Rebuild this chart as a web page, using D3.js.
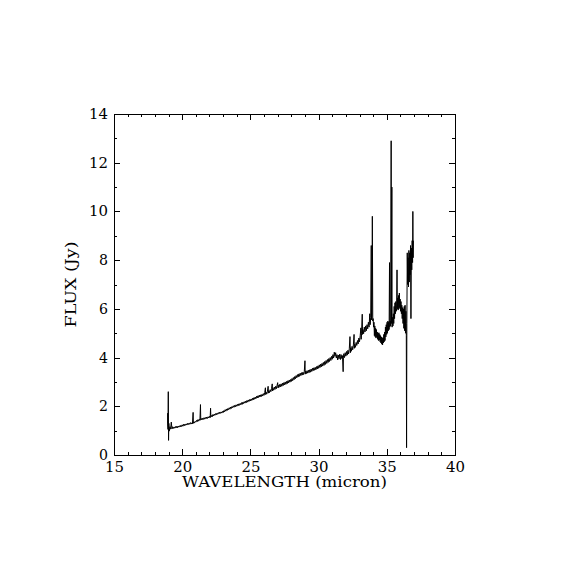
<!DOCTYPE html>
<html>
<head>
  <title>Spectrum</title>
  <style>
    body { margin: 0; background: #fff; }
    text { font-family: "DejaVu Serif", serif; font-size: 14px; fill: #000; }
  </style>
</head>
<body>
  <svg id="svg"></svg>

  <script src="https://d3js.org/d3.v7.min.js"></script>
  <script>
    // values
    let xTicks = [15, 20, 25, 30, 35, 40];
    let yTicks = [0, 2, 4, 6, 8, 10, 12, 14];
    let xLabel = "WAVELENGTH (micron)";
    let yLabel = "FLUX (Jy)";

    // [wavelength (micron), flux (Jy)]
    let spectrum = [
      [18.93, 1.72], [18.93, 1.31], [18.96, 1.05], [18.98, 2.6], [19.0, 0.6], [19.02, 1.3], [19.05, 0.98],
      [19.10, 1.16], [19.15, 1.06], [19.20, 1.35], [19.25, 1.07], [19.30, 1.16], [19.35, 1.09], [19.40, 1.15],
      [19.45, 1.10], [19.50, 1.17], [19.55, 1.11], [19.60, 1.18], [19.65, 1.12], [19.70, 1.19], [19.75, 1.14],
      [19.80, 1.20], [19.85, 1.15], [19.90, 1.22], [19.95, 1.17],
      [20.00, 1.24], [20.05, 1.18], [20.10, 1.26], [20.15, 1.20], [20.20, 1.27], [20.25, 1.22], [20.30, 1.28],
      [20.35, 1.23], [20.40, 1.30], [20.45, 1.25], [20.50, 1.31], [20.55, 1.26], [20.60, 1.33], [20.65, 1.27],
      [20.70, 1.32], [20.75, 1.28], [20.80, 1.75], [20.82, 1.30], [20.85, 1.36], [20.90, 1.31], [20.95, 1.38],
      [21.00, 1.35], [21.05, 1.42], [21.10, 1.37], [21.15, 1.45], [21.20, 1.39], [21.25, 1.47], [21.30, 1.42],
      [21.34, 2.07], [21.36, 1.44], [21.40, 1.50], [21.45, 1.44], [21.50, 1.51], [21.55, 1.46], [21.60, 1.53],
      [21.65, 1.47], [21.70, 1.54], [21.75, 1.49], [21.80, 1.56], [21.85, 1.50], [21.90, 1.57], [21.95, 1.52],
      [22.00, 1.59], [22.05, 1.53], [22.08, 1.92], [22.10, 1.56], [22.15, 1.62], [22.20, 1.57], [22.25, 1.66],
      [22.30, 1.60], [22.35, 1.68], [22.40, 1.63], [22.45, 1.70], [22.50, 1.65], [22.55, 1.72], [22.60, 1.67],
      [22.65, 1.74], [22.70, 1.69], [22.75, 1.76], [22.80, 1.71], [22.85, 1.77], [22.90, 1.72], [22.95, 1.79],
      [23.00, 1.74], [23.05, 1.82], [23.10, 1.77], [23.15, 1.86], [23.20, 1.80], [23.25, 1.89], [23.30, 1.83],
      [23.35, 1.91], [23.40, 1.86], [23.45, 1.94], [23.50, 1.88], [23.55, 1.97], [23.60, 1.91], [23.65, 1.99],
      [23.70, 1.94], [23.75, 2.02], [23.80, 1.96], [23.85, 2.04], [23.90, 1.98], [23.95, 2.06],
      [24.00, 2.00], [24.05, 2.08], [24.10, 2.02], [24.15, 2.10], [24.20, 2.04], [24.25, 2.12], [24.30, 2.06],
      [24.35, 2.15], [24.40, 2.08], [24.45, 2.17], [24.50, 2.11], [24.55, 2.19], [24.60, 2.13], [24.65, 2.21],
      [24.70, 2.15], [24.75, 2.24], [24.80, 2.17], [24.85, 2.26], [24.90, 2.20], [24.95, 2.28],
      [25.00, 2.22], [25.05, 2.30], [25.10, 2.24], [25.15, 2.33], [25.20, 2.26], [25.25, 2.35], [25.30, 2.29],
      [25.35, 2.38], [25.40, 2.31], [25.45, 2.41], [25.50, 2.34], [25.55, 2.43], [25.60, 2.36], [25.65, 2.46],
      [25.70, 2.38], [25.75, 2.47], [25.80, 2.40], [25.85, 2.49], [25.90, 2.42], [25.95, 2.52],
      [26.00, 2.45], [26.05, 2.56], [26.10, 2.76], [26.12, 2.48], [26.15, 2.58], [26.20, 2.50], [26.25, 2.62],
      [26.30, 2.82], [26.32, 2.54], [26.35, 2.64], [26.40, 2.56], [26.45, 2.68], [26.50, 2.60], [26.55, 2.72],
      [26.60, 2.92], [26.62, 2.63], [26.65, 2.74], [26.70, 2.66], [26.75, 2.79], [26.80, 2.69], [26.85, 2.82],
      [26.90, 2.72], [26.95, 2.85],
      [27.00, 2.97], [27.03, 2.75], [27.05, 2.86], [27.10, 2.78], [27.15, 2.90], [27.20, 2.80], [27.25, 2.92],
      [27.30, 2.82], [27.35, 2.95], [27.40, 2.85], [27.45, 2.97], [27.50, 2.88], [27.55, 3.00], [27.60, 2.90],
      [27.65, 3.02], [27.70, 2.93], [27.75, 3.05], [27.80, 2.96], [27.85, 3.08], [27.90, 2.99], [27.95, 3.10],
      [28.00, 3.02], [28.05, 3.14], [28.10, 3.05], [28.15, 3.18], [28.20, 3.09], [28.25, 3.22], [28.30, 3.13],
      [28.35, 3.26], [28.40, 3.17], [28.45, 3.30], [28.50, 3.20], [28.55, 3.33], [28.60, 3.23], [28.65, 3.36],
      [28.70, 3.26], [28.75, 3.38], [28.80, 3.28], [28.85, 3.40], [28.90, 3.30], [28.95, 3.42],
      [29.00, 3.87], [29.02, 3.32], [29.05, 3.44], [29.10, 3.34], [29.15, 3.46], [29.20, 3.36], [29.25, 3.48],
      [29.30, 3.38], [29.35, 3.50], [29.40, 3.40], [29.45, 3.53], [29.50, 3.43], [29.55, 3.56], [29.60, 3.46],
      [29.65, 3.58], [29.70, 3.48], [29.75, 3.60], [29.80, 3.50], [29.85, 3.63], [29.90, 3.53], [29.95, 3.66],
      [30.00, 3.56], [30.05, 3.70], [30.10, 3.59], [30.15, 3.73], [30.20, 3.62], [30.25, 3.76], [30.30, 3.65],
      [30.35, 3.80], [30.40, 3.68], [30.45, 3.84], [30.50, 3.72], [30.55, 3.88], [30.60, 3.76], [30.65, 3.92],
      [30.70, 3.80], [30.75, 3.96], [30.80, 3.84], [30.85, 4.00], [30.90, 3.88], [30.95, 4.05],
      [31.00, 3.93], [31.05, 4.12], [31.10, 3.98], [31.15, 4.22], [31.20, 4.05], [31.25, 4.20], [31.30, 3.98],
      [31.35, 4.12], [31.40, 3.90], [31.45, 4.10], [31.50, 3.95], [31.55, 4.14], [31.60, 3.92], [31.65, 4.12],
      [31.70, 3.96], [31.75, 4.08], [31.80, 3.42], [31.82, 4.02], [31.85, 4.16], [31.90, 4.00], [31.95, 4.20],
      [32.00, 4.06], [32.05, 4.25], [32.10, 4.10], [32.15, 4.30], [32.20, 4.15], [32.25, 4.36], [32.30, 4.86],
      [32.33, 4.20], [32.35, 4.40], [32.40, 4.26], [32.45, 4.46], [32.50, 4.32], [32.55, 4.52], [32.60, 4.95],
      [32.62, 4.38], [32.65, 4.55], [32.70, 4.42], [32.75, 4.62], [32.80, 4.50], [32.85, 4.70], [32.90, 4.56],
      [32.95, 4.80],
      [33.00, 4.65], [33.05, 4.90], [33.10, 5.22], [33.12, 4.75], [33.15, 5.00], [33.20, 5.78], [33.22, 4.95],
      [33.25, 5.15], [33.30, 4.98], [33.35, 5.25], [33.40, 5.05], [33.45, 5.30], [33.50, 5.10], [33.55, 5.35],
      [33.60, 5.18], [33.65, 5.45], [33.70, 5.25], [33.75, 5.80], [33.78, 5.35], [33.82, 5.65], [33.86, 8.60],
      [33.88, 5.55], [33.91, 5.75], [33.94, 9.80], [33.97, 5.50],
      [34.00, 5.60], [34.03, 5.25], [34.06, 5.45], [34.09, 4.90], [34.12, 5.30], [34.15, 4.85], [34.18, 5.20],
      [34.21, 4.80], [34.24, 5.15], [34.27, 4.85], [34.30, 5.05], [34.33, 4.75], [34.36, 5.00], [34.39, 4.70],
      [34.42, 5.02], [34.45, 4.72], [34.48, 4.95], [34.51, 4.65], [34.54, 4.90], [34.57, 4.60], [34.60, 4.85],
      [34.63, 4.55], [34.66, 4.82], [34.69, 4.52], [34.72, 4.80], [34.75, 4.60], [34.78, 4.95], [34.81, 4.65],
      [34.84, 5.05], [34.87, 4.70], [34.90, 5.25], [34.93, 4.85], [34.96, 5.35], [34.99, 4.95],
      [35.02, 5.45], [35.05, 5.00], [35.08, 5.50], [35.11, 5.10], [35.14, 5.45], [35.17, 5.15], [35.20, 7.90],
      [35.22, 5.25], [35.25, 5.50], [35.28, 5.30], [35.32, 12.9], [35.34, 5.40], [35.37, 11.0], [35.39, 5.25],
      [35.42, 5.65], [35.45, 5.30], [35.48, 5.80], [35.51, 5.40], [35.54, 6.10], [35.57, 5.60], [35.60, 6.25],
      [35.63, 5.80], [35.66, 6.30], [35.69, 5.90], [35.72, 6.00], [35.75, 7.60], [35.77, 6.00], [35.80, 6.45],
      [35.83, 5.95], [35.86, 6.55], [35.89, 6.00], [35.92, 6.65], [35.95, 6.05], [35.98, 6.40],
      [36.01, 5.90], [36.04, 6.30], [36.07, 5.80], [36.10, 6.15], [36.13, 5.60], [36.16, 6.05], [36.19, 5.40],
      [36.22, 6.00], [36.25, 5.20], [36.28, 6.10], [36.31, 5.10], [36.34, 6.15], [36.37, 5.00], [36.40, 5.90],
      [36.43, 4.90], [36.45, 0.30], [36.47, 5.40], [36.50, 8.30], [36.53, 7.00], [36.56, 8.10], [36.59, 6.90],
      [36.62, 8.40], [36.65, 7.10], [36.68, 8.30], [36.71, 7.40], [36.74, 8.60], [36.77, 5.60], [36.80, 8.50],
      [36.83, 7.60], [36.86, 8.80], [36.89, 7.90], [36.91, 10.0], [36.93, 8.10], [36.95, 8.80]
    ];

    let width = 570, height = 570;
    let frame = { left: 114, right: 455, top: 114, bottom: 455 };

    let svg = d3.select("#svg").attr("width", width).attr("height", height);

    let xScale = d3.scaleLinear().domain([15, 40]).range([frame.left, frame.right]);
    let yScale = d3.scaleLinear().domain([0, 14]).range([frame.bottom, frame.top]);

    let minorX = d3.range(15, 41, 1);
    let minorY = d3.range(0, 14.5, 1);

    // minor ticks, all four sides
    let minorAxes = [
      [d3.axisBottom(xScale).tickValues(minorX).tickSize(-3), `translate(0,${frame.bottom})`],
      [d3.axisTop(xScale).tickValues(minorX).tickSize(-3), `translate(0,${frame.top})`],
      [d3.axisLeft(yScale).tickValues(minorY).tickSize(-3), `translate(${frame.left},0)`],
      [d3.axisRight(yScale).tickValues(minorY).tickSize(-3), `translate(${frame.right},0)`]
    ];
    minorAxes.forEach(([ax, tr]) => {
      let g = svg.append("g").attr("transform", tr).call(ax.tickFormat(""));
      g.select(".domain").remove();
    });

    // major ticks
    let xBottom = svg.append("g")
      .attr("transform", `translate(0,${frame.bottom})`)
      .call(d3.axisBottom(xScale).tickValues(xTicks).tickSize(-6).tickPadding(7.5).tickFormat(d3.format("d")));
    let xTop = svg.append("g")
      .attr("transform", `translate(0,${frame.top})`)
      .call(d3.axisTop(xScale).tickValues(xTicks).tickSize(-6).tickFormat(""));
    let yLeft = svg.append("g")
      .attr("transform", `translate(${frame.left},0)`)
      .call(d3.axisLeft(yScale).tickValues(yTicks).tickSize(-6).tickPadding(6).tickFormat(d3.format("d")));
    let yRight = svg.append("g")
      .attr("transform", `translate(${frame.right},0)`)
      .call(d3.axisRight(yScale).tickValues(yTicks).tickSize(-6).tickFormat(""));

    [xBottom, xTop, yLeft, yRight].forEach(g => g.select(".domain").remove());

    svg.selectAll(".tick line").attr("stroke", "#000").attr("shape-rendering", "crispEdges");

    // stretch the digits a little, the original font is wide
    svg.selectAll(".tick text")
      .attr("font-family", "DejaVu Serif")
      .attr("font-size", 14)
      .attr("fill", "#000")
      .each(function () {
        let t = d3.select(this);
        t.attr("textLength", t.text().length * 10 - 1).attr("lengthAdjust", "spacingAndGlyphs");
      });

    // frame
    svg.append("rect")
      .attr("x", frame.left + 0.5)
      .attr("y", frame.top + 0.5)
      .attr("width", frame.right - frame.left)
      .attr("height", frame.bottom - frame.top)
      .attr("fill", "none")
      .attr("stroke", "#000")
      .attr("shape-rendering", "crispEdges");

    // spectrum
    let line = d3.line()
      .x(d => xScale(d[0]))
      .y(d => yScale(d[1]));

    svg.append("path")
      .datum(spectrum)
      .attr("d", line)
      .attr("fill", "none")
      .attr("stroke", "#000")
      .attr("stroke-width", 1)
      .attr("stroke-linejoin", "bevel");

    // axis titles
    svg.append("text")
      .attr("x", (frame.left + frame.right) / 2)
      .attr("y", 487)
      .attr("text-anchor", "middle")
      .attr("font-size", 13)
      .attr("textLength", 205)
      .attr("lengthAdjust", "spacingAndGlyphs")
      .text(xLabel);

    svg.append("text")
      .attr("transform", `translate(75.5,${(frame.top + frame.bottom) / 2}) rotate(-90)`)
      .attr("text-anchor", "middle")
      .attr("textLength", 86)
      .attr("lengthAdjust", "spacingAndGlyphs")
      .text(yLabel);
  </script>
</body>
</html>
